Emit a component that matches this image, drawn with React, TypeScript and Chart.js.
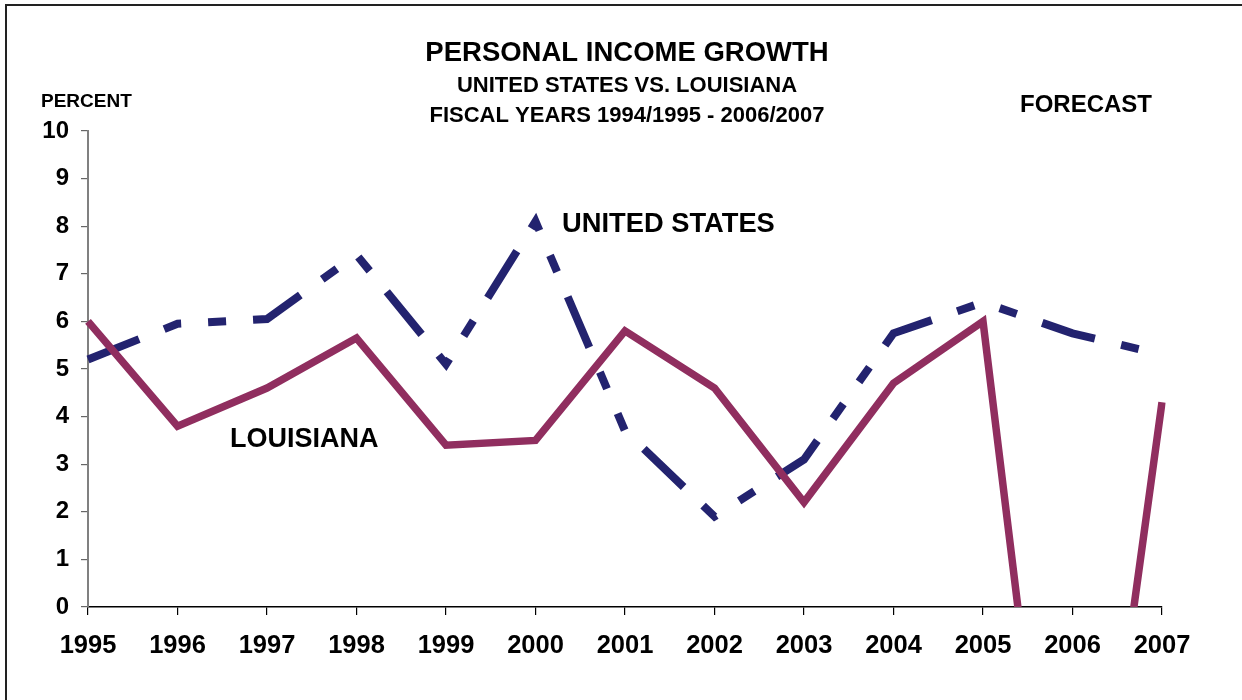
import React, { useEffect, useRef } from "react";
import { Chart, registerables } from "chart.js";

Chart.register(...registerables);

const years = ["1995", "1996", "1997", "1998", "1999", "2000", "2001", "2002", "2003", "2004", "2005", "2006", "2007"];
const louisiana = [6.0, 3.8, 4.6, 5.65, 3.4, 3.5, 5.8, 4.6, 2.2, 4.7, 6.0, -9.4, 4.3];
const unitedStates = [5.2, 5.95, 6.05, 7.4, 5.1, 8.1, 3.7, 1.9, 3.1, 5.75, 6.4, 5.75, 5.3];

const titleText = "PERSONAL INCOME GROWTH";
const subtitleLines = ["UNITED STATES VS. LOUISIANA", "FISCAL YEARS 1994/1995 - 2006/2007"];
const yAxisTitle = "PERCENT";
const forecastText = "FORECAST";
const usLabel = "UNITED STATES";
const laLabel = "LOUISIANA";

const FONT = "'Liberation Sans', Arial, sans-serif";

const textPlugin = {
  id: "textPlugin",
  beforeDraw(chart: any) {
    const ctx = chart.ctx;
    ctx.save();
    ctx.fillStyle = "#ffffff";
    ctx.fillRect(0, 0, chart.width, chart.height);
    ctx.strokeStyle = "#222222";
    ctx.lineWidth = 2;
    ctx.beginPath();
    ctx.moveTo(6, chart.height + 5);
    ctx.lineTo(6, 5);
    ctx.lineTo(chart.width + 5, 5);
    ctx.stroke();
    ctx.restore();
  },
  afterDraw(chart: any) {
    const ctx = chart.ctx;
    const area = chart.chartArea;
    const cx = (area.left + area.right) / 2 + 2;
    ctx.save();
    ctx.fillStyle = "#000000";
    ctx.textBaseline = "middle";
    ctx.textAlign = "center";
    ctx.font = `bold 27.5px ${FONT}`;
    ctx.fillText(titleText, cx, 53);
    ctx.font = `bold 22px ${FONT}`;
    ctx.fillText(subtitleLines[0], cx, 86);
    ctx.fillText(subtitleLines[1], cx, 116);
    ctx.textAlign = "left";
    ctx.font = `bold 19px ${FONT}`;
    ctx.fillText(yAxisTitle, 41, 102);
    ctx.font = `bold 24px ${FONT}`;
    ctx.fillText(forecastText, 1020, 105);
    ctx.font = `bold 27.3px ${FONT}`;
    ctx.fillText(usLabel, 562, 224);
    ctx.font = `bold 27px ${FONT}`;
    ctx.fillText(laLabel, 230, 440);
    ctx.restore();
  },
};

export default function App() {
  const canvasRef = useRef<HTMLCanvasElement | null>(null);

  useEffect(() => {
    const canvas = canvasRef.current;
    if (!canvas) return;
    const chart = new Chart(canvas, {
      type: "line",
      data: {
        labels: years,
        datasets: [
          {
            label: "LOUISIANA",
            data: louisiana,
            borderColor: "#902E5F",
            backgroundColor: "#902E5F",
            borderWidth: 7.5,
            pointRadius: 0,
            tension: 0,
            fill: false,
          },
          {
            label: "UNITED STATES",
            data: unitedStates,
            borderColor: "#23236F",
            backgroundColor: "#23236F",
            borderWidth: 8,
            borderDash: [55, 27, 18, 27, 18, 27],
            borderCapStyle: "butt",
            pointRadius: 0,
            tension: 0,
            fill: false,
          },
        ],
      },
      options: {
        responsive: false,
        animation: false,
        events: [],
        layout: { padding: { left: 0, top: 131, right: 80, bottom: 0 } },
        plugins: {
          legend: { display: false },
          title: { display: false },
          tooltip: { enabled: false },
        },
        scales: {
          x: {
            type: "category",
            offset: false,
            ticks: {
              color: "#000000",
              font: { family: FONT, weight: "bold", size: 25.5 },
              padding: 16,
              maxRotation: 0,
              autoSkip: false,
            },
            grid: { drawOnChartArea: false, drawTicks: true, tickLength: 8, color: "#000000", lineWidth: 1.2 },
            border: { display: true, color: "#000000", width: 1.5 },
            afterFit: (scale: any) => {
              scale.height = 93;
            },
          },
          y: {
            min: 0,
            max: 10,
            ticks: {
              stepSize: 1,
              color: "#000000",
              font: { family: FONT, weight: "bold", size: 24 },
              padding: 12,
            },
            grid: { drawOnChartArea: false, drawTicks: true, tickLength: 7, color: "#666666", lineWidth: 1.2 },
            border: { display: true, color: "#808080", width: 2 },
            afterFit: (scale: any) => {
              scale.width = 88;
            },
          },
        },
      },
      plugins: [textPlugin],
    });
    return () => chart.destroy();
  }, []);

  return (
    <div style={{ position: "absolute", left: 0, top: 0, width: 1242, height: 700, overflow: "hidden" }}>
      <canvas ref={canvasRef} width={1242} height={700} style={{ display: "block" }} />
    </div>
  );
}
